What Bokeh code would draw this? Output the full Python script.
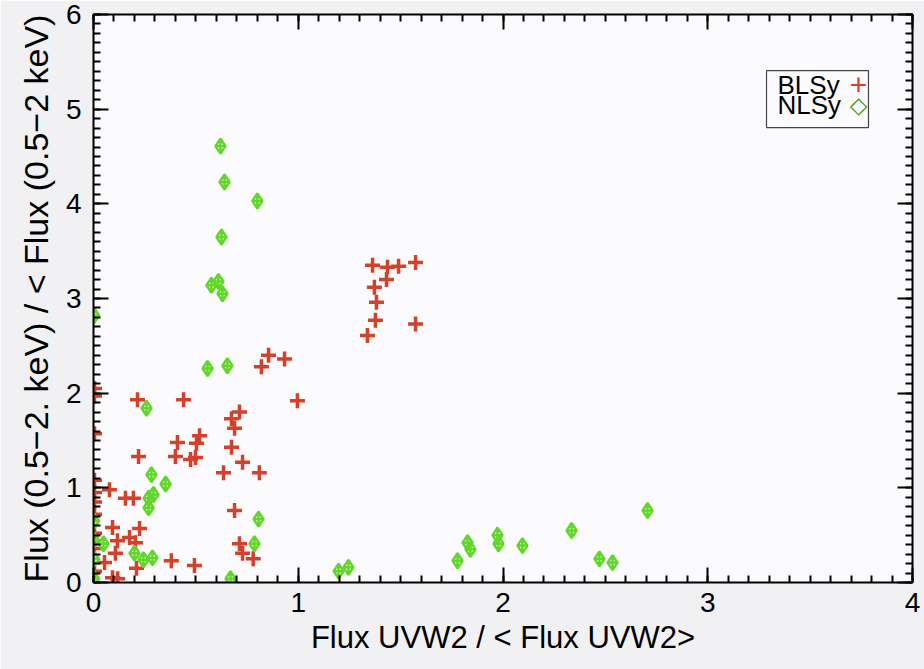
from bokeh.plotting import figure
from bokeh.models import (LinearAxis, Range1d, SingleIntervalTicker, Label,
                          BoxAnnotation, CustomJSTickFormatter)
from bokeh.embed import file_html
from bokeh.resources import INLINE

# Broad-line Seyferts: normalised UVW2 flux vs normalised soft X-ray flux
blsy_x = [1.363, 1.436, 1.49, 1.573, 1.431, 1.372, 1.382, 1.377, 1.338, 1.573,
          0.855, 0.933, 0.82, 0.996, 0.215, 0.44, 0.713, 0.674, 0.689, 0.518,
          0.41, 0.503, 0.674, 0.22, 0.40, 0.498, 0.474, 0.728, 0.635, 0.81,
          0.078, 0.156, 0.195, 0.689, 0.093, 0.225, 0.117, 0.176, 0.205, 0.713,
          0.107, 0.728, 0.78, 0.38, 0.493, 0.054, 0.21, 0.093, 0.118,
          0.005, 0.005, 0.005, 0.005, 0.005, 0.005, 0.005, 0.005, 0.005, 0.005]
blsy_y = [3.35, 3.33, 3.34, 3.38, 3.20, 3.12, 2.96, 2.77, 2.61, 2.73,
          2.40, 2.36, 2.28, 1.92, 1.93, 1.93, 1.80, 1.73, 1.63, 1.55,
          1.48, 1.47, 1.43, 1.33, 1.33, 1.32, 1.30, 1.27, 1.16, 1.16,
          0.98, 0.89, 0.89, 0.76, 0.58, 0.57, 0.44, 0.475, 0.42, 0.41,
          0.31, 0.31, 0.25, 0.23, 0.18, 0.21, 0.15, 0.05, 0.04,
          2.05, 1.97, 1.57, 1.08, 0.95, 0.85, 0.72, 0.52, 0.36, 0.12]

# Narrow-line Seyferts
nlsy_x = [0.62, 0.64, 0.80, 0.625, 0.61, 0.576, 0.63, 0.557, 0.654, 0.003,
          0.259, 0.283, 0.352, 0.293, 0.269, 0.269, 0.806, 0.049, 0.786, 0.20,
          0.244, 0.288, 0.669,
          1.197, 1.245, 1.778, 1.827, 1.841, 1.973, 1.978, 2.095, 2.335, 2.471,
          2.535, 2.706,
          0.003, 0.003, 0.003, 0.003]
nlsy_y = [4.61, 4.23, 4.03, 3.65, 3.18, 3.14, 3.05, 2.26, 2.29, 2.82,
          1.84, 1.14, 1.04, 0.93, 0.89, 0.79, 0.67, 0.41, 0.41, 0.31,
          0.24, 0.26, 0.04,
          0.12, 0.16, 0.23, 0.42, 0.35, 0.50, 0.41, 0.39, 0.55, 0.25,
          0.21, 0.76,
          0.65, 0.45, 0.25, 0.04]

series_names = ["BLSy", "NLSy"]

RED = "#d4402a"
GREEN = "#62d62a"
LEGEND_GREEN = "#3f9a12"
FONT = "Liberation Sans"

p = figure(width=924, height=669, x_range=Range1d(0, 4), y_range=Range1d(0, 6),
           output_backend="svg", toolbar_location=None,
           min_border_left=93, min_border_right=12, min_border_top=14,
           min_border_bottom=87, x_axis_location=None, y_axis_location=None)
p.background_fill_color = "#fbfbfd"
p.border_fill_color = "#f1f1f3"
p.outline_line_color = None
p.xgrid.visible = False
p.ygrid.visible = False


def style_axis(ax, show_labels):
    ax.axis_line_width = 2
    ax.axis_line_color = "black"
    ax.major_tick_in = 15
    ax.major_tick_out = 0
    ax.minor_tick_in = 7
    ax.minor_tick_out = 0
    ax.major_tick_line_width = 2
    ax.minor_tick_line_width = 2
    ax.major_tick_line_color = "black"
    ax.minor_tick_line_color = "black"
    if show_labels:
        ax.major_label_text_font = FONT
        ax.major_label_text_font_size = "28px"
        ax.major_label_text_color = "black"
        ax.axis_label_text_font = FONT
        ax.axis_label_text_font_size = "31px"
        ax.axis_label_text_font_style = "normal"
        ax.axis_label_text_color = "black"
    else:
        # tick marks only on the mirrored axes
        ax.formatter = CustomJSTickFormatter(code="return ''")
        ax.major_label_standoff = 0


def ticker():
    return SingleIntervalTicker(interval=1, num_minor_ticks=10)


xb = LinearAxis(ticker=ticker(), axis_label="Flux UVW2 / < Flux UVW2>")
style_axis(xb, True)
xb.major_label_standoff = 10
xb.axis_label_standoff = 5
p.add_layout(xb, "below")

yl = LinearAxis(ticker=ticker(),
                axis_label="Flux (0.5\u22122. keV) / < Flux (0.5\u22122 keV)")
style_axis(yl, True)
yl.axis_label_text_font_size = "34px"
yl.major_label_standoff = 12
yl.axis_label_standoff = 8
p.add_layout(yl, "left")

xt = LinearAxis(ticker=ticker())
style_axis(xt, False)
p.add_layout(xt, "above")

yr = LinearAxis(ticker=ticker())
style_axis(yr, False)
p.add_layout(yr, "right")

# data points
p.scatter(blsy_x, blsy_y, marker="cross", size=15, line_width=3.5,
          line_color=RED)
p.scatter(nlsy_x, nlsy_y, marker="diamond_cross", size=15, line_width=2.5,
          line_color=GREEN, fill_color=None)

# legend panel in the upper right of the frame
box = BoxAnnotation(left=3.287, right=3.785, bottom=4.806, top=5.408,
                    fill_color="#fbfbfd", fill_alpha=1.0,
                    line_color="#444444", line_width=1.2, line_alpha=1.0)
p.add_layout(box)
for txt, yy in zip(series_names, (498, 478)):
    p.add_layout(Label(x=684, y=yy, x_units="screen", y_units="screen",
                       text=txt, text_font=FONT, text_font_size="26px",
                       text_baseline="middle", text_color="black"))
p.add_layout(Label(x=765, y=498, x_units="screen", y_units="screen",
                   text="+", text_font=FONT, text_font_size="30px",
                   text_align="center", text_baseline="middle",
                   text_color=RED))
p.add_layout(Label(x=765, y=478, x_units="screen", y_units="screen",
                   text="\u25c7", text_font="DejaVu Sans", text_font_size="23px",
                   text_align="center", text_baseline="middle",
                   text_color=LEGEND_GREEN, text_font_style="bold"))

open("out.html", "w").write(file_html(p, INLINE))
